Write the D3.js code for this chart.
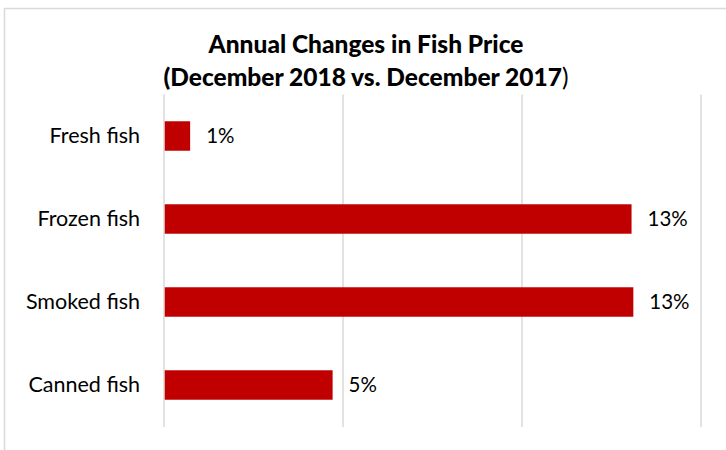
<!DOCTYPE html>
<html>
<head>
<meta charset="utf-8">
<script src="https://cdn.jsdelivr.net/npm/d3@7"></script>
<style>
  html, body { margin: 0; padding: 0; background: #fff; }
  svg { display: block; }
  text { font-family: Lato, "Noto Sans", sans-serif; fill: #000; }
</style>
</head>
<body>
<svg id="chart" width="726" height="450"></svg>
<script>
// Fish categories and their year-on-year price change (%)
const categories = ["Fresh fish", "Frozen fish", "Smoked fish", "Canned fish"];
const changes = [0.73, 13.06, 13.11, 4.71];
const gridTicks = [0, 5, 10, 15];
const titleLines = ["Annual Changes in Fish Price", "(December 2018 vs. December 2017"];

const svg = d3.select("#chart");

// outer chart frame
svg.append("rect")
  .attr("x", 4.5).attr("y", 8.5)
  .attr("width", 740).attr("height", 460)
  .attr("fill", "#fff")
  .attr("stroke", "#d9d9d9").attr("stroke-width", 1.5);

const x = d3.scaleLinear().domain([0, 15]).range([164, 701]);
const y = d3.scaleBand()
  .domain(categories)
  .range([94.5, 426.5])
  .paddingInner(0.645)
  .paddingOuter(0.3225);

// vertical gridlines
svg.append("g")
  .selectAll("line")
  .data(gridTicks)
  .join("line")
  .attr("x1", d => x(d)).attr("x2", d => x(d))
  .attr("y1", 94.5).attr("y2", 427)
  .attr("stroke", "#d9d9d9").attr("stroke-width", 1.5);

// bars
const data = categories.map((c, i) => ({ cat: c, val: changes[i] }));
svg.append("g")
  .selectAll("rect")
  .data(data)
  .join("rect")
  .attr("x", x(0) + 0.75)
  .attr("y", d => y(d.cat))
  .attr("width", d => x(d.val) - x(0) - 0.75)
  .attr("height", y.bandwidth())
  .attr("fill", "#c00000");

// value labels
svg.append("g")
  .selectAll("text")
  .data(data)
  .join("text")
  .attr("x", d => x(d.val) + 16)
  .attr("y", d => y(d.cat) + y.bandwidth() / 2)
  .attr("dy", "0.34em")
  .attr("font-size", 20.5)
  .text(d => d3.format(".0f")(d.val) + "%");

// category labels
svg.append("g")
  .selectAll("text")
  .data(categories)
  .join("text")
  .attr("x", 140)
  .attr("y", d => y(d) + y.bandwidth() / 2)
  .attr("dy", "0.34em")
  .attr("text-anchor", "end")
  .attr("font-size", 21.5)
  .text(d => d);

// title
const title = svg.append("text")
  .attr("text-anchor", "middle")
  .attr("font-size", 24.5)
  .attr("font-weight", 900);
title.append("tspan").attr("x", 366).attr("y", 53).text(titleLines[0]);
title.append("tspan").attr("x", 366).attr("y", 86).text(titleLines[1]);
title.append("tspan").attr("font-weight", "normal").text(")");
</script>
</body>
</html>
